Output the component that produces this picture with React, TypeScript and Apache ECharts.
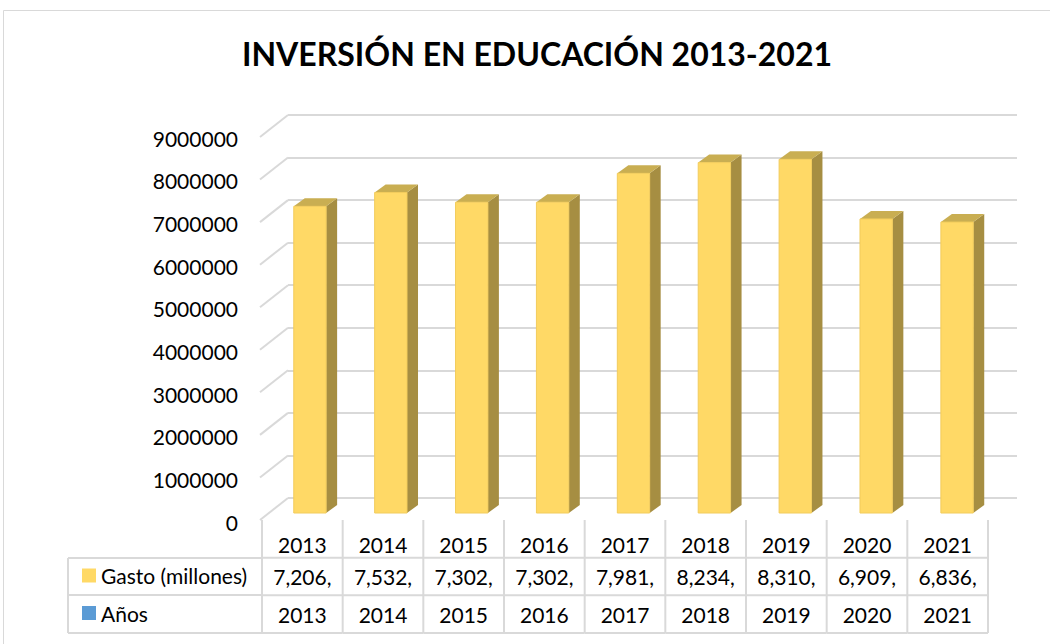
import React, { useEffect, useRef } from "react";
import * as echarts from "echarts";

const titleText = "INVERSIÓN EN EDUCACIÓN 2013-2021";
const years = ["2013", "2014", "2015", "2016", "2017", "2018", "2019", "2020", "2021"];
const gasto = [7206000, 7532000, 7302000, 7302000, 7981000, 8234000, 8310000, 6909000, 6836000];
const anos = [2013, 2014, 2015, 2016, 2017, 2018, 2019, 2020, 2021];
const seriesNames = ["Gasto (millones)", "Años"];
const yMin = 0;
const yMax = 9000000;
const yInterval = 1000000;

const FONT = "Lato, 'Open Sans', sans-serif";
const GRID_COLOR = "#d9d9d9";
const TXT = 21;

function fmtTable(v: number): string {
  return v.toLocaleString("en-US").slice(0, 6);
}

export default function App() {
  const ref = useRef<HTMLDivElement>(null);
  useEffect(() => {
    document.body.style.margin = "0";
    const chart = echarts.init(ref.current!, null, { renderer: "svg" });
    const ticks: number[] = [];
    for (let v = yMin; v <= yMax; v += yInterval) ticks.push(v);

    const legendBase = {
      left: 77,
      orient: "vertical",
      icon: "rect",
      itemWidth: 14,
      itemHeight: 14,
      itemGap: 6,
      selectedMode: false,
      textStyle: { fontFamily: FONT, fontSize: TXT, color: "#000", lineHeight: 20 },
    };

    const option: any = {
      animation: false,
      backgroundColor: "#ffffff",
      title: {
        text: titleText,
        left: 532,
        textAlign: "center",
        top: 32,
        textStyle: { fontFamily: FONT, fontSize: 32, fontWeight: "bold", color: "#000" },
      },
      legend: [
        { ...legendBase, data: [seriesNames[0]], top: 560 },
        { ...legendBase, data: [seriesNames[1]], top: 597.5 },
      ],
      grid: [
        { left: 288, top: 115, width: 729, height: 383 },
        { left: 269.5, top: 130, width: 728, height: 383 },
        { left: 246, top: 138, width: 10, height: 384 },
        { left: 262, top: 520, width: 726, height: 113 },
      ],
      xAxis: [
        { gridIndex: 0, type: "value", min: 0, max: 1, show: false },
        { gridIndex: 1, type: "category", data: years, show: false },
        { gridIndex: 2, type: "value", min: 0, max: 1, show: false },
        { gridIndex: 3, type: "category", data: years, show: false },
      ],
      yAxis: [
        {
          gridIndex: 0, type: "value", min: yMin, max: yMax, interval: yInterval,
          axisLine: { show: false }, axisTick: { show: false }, axisLabel: { show: false },
          splitLine: { show: true, lineStyle: { color: GRID_COLOR, width: 2 } },
        },
        { gridIndex: 1, type: "value", min: yMin, max: yMax, interval: yInterval, show: false },
        {
          gridIndex: 2, type: "value", min: yMin, max: yMax, interval: yInterval,
          axisLine: { show: false }, axisTick: { show: false }, splitLine: { show: false },
          axisLabel: {
            fontFamily: FONT, fontSize: TXT, color: "#000", margin: 8,
            formatter: (v: number) => String(v),
          },
        },
        { gridIndex: 3, type: "value", min: 0, max: 3, inverse: true, show: false },
      ],
      graphic: [
        {
          type: "rect",
          shape: { x: 3.5, y: 10.5, width: 1200, height: 800 },
          style: { fill: "none", stroke: GRID_COLOR, lineWidth: 1 },
          silent: true,
        },
        { type: "line", shape: { x1: 68, y1: 558, x2: 262, y2: 558 }, style: { stroke: GRID_COLOR, lineWidth: 2 } },
        { type: "line", shape: { x1: 68, y1: 595, x2: 262, y2: 595 }, style: { stroke: GRID_COLOR, lineWidth: 2 } },
        { type: "line", shape: { x1: 68, y1: 633, x2: 262, y2: 633 }, style: { stroke: GRID_COLOR, lineWidth: 2 } },
        { type: "line", shape: { x1: 68, y1: 558, x2: 68, y2: 633 }, style: { stroke: GRID_COLOR, lineWidth: 2 } },
      ],
      series: [
        {
          type: "custom",
          name: "wall",
          xAxisIndex: 0,
          yAxisIndex: 0,
          data: ticks.map((v) => [0, v]),
          encode: { x: 0, y: 1 },
          silent: true,
          renderItem: (params: any, api: any) => {
            const p = api.coord([0, api.value(1)]);
            return {
              type: "line",
              shape: { x1: p[0], y1: p[1], x2: p[0] - 28, y2: p[1] + 22 },
              style: { stroke: GRID_COLOR, lineWidth: 2 },
            };
          },
        },
        {
          type: "custom",
          name: seriesNames[0],
          xAxisIndex: 1,
          yAxisIndex: 1,
          itemStyle: { color: "#FFD966" },
          data: gasto.map((v, i) => [i, v]),
          encode: { x: 0, y: 1 },
          renderItem: (params: any, api: any) => {
            const i = api.value(0);
            const v = api.value(1);
            const top = api.coord([i, v]);
            const base = api.coord([i, 0]);
            const bw = api.size([1, 0])[0] * 0.4;
            const x0 = top[0] - bw / 2;
            const x1 = top[0] + bw / 2;
            const dx = 11;
            const dy = 8;
            return {
              type: "group",
              children: [
                {
                  type: "polygon",
                  shape: { points: [[x1, top[1]], [x1 + dx, top[1] - dy], [x1 + dx, base[1] - dy], [x1, base[1]]] },
                  style: { fill: "#A68E42" },
                },
                {
                  type: "polygon",
                  shape: { points: [[x0, top[1]], [x0 + dx, top[1] - dy], [x1 + dx, top[1] - dy], [x1, top[1]]] },
                  style: { fill: "#C9AE52" },
                },
                {
                  type: "rect",
                  shape: { x: x0, y: top[1], width: bw, height: base[1] - top[1] },
                  style: { fill: "#FFD966", stroke: "#F2CC5C", lineWidth: 1 },
                },
              ],
            };
          },
        },
        {
          type: "custom",
          name: seriesNames[1],
          xAxisIndex: 1,
          yAxisIndex: 1,
          itemStyle: { color: "#5B9BD5" },
          data: anos.map((v, i) => [i, v]),
          encode: { x: 0, y: 1 },
          renderItem: () => ({ type: "group", children: [] }),
        },
        {
          type: "custom",
          name: "table",
          xAxisIndex: 3,
          yAxisIndex: 3,
          silent: true,
          data: years.map((y, i) => [i, gasto[i], anos[i]]),
          encode: { x: 0 },
          renderItem: (params: any, api: any) => {
            const i = api.value(0);
            const c0 = api.coord([i, 0]);
            const w = api.size([1, 0])[0];
            const xl = c0[0] - w / 2;
            const xr = c0[0] + w / 2;
            const y0 = c0[1];
            const y1 = api.coord([i, 1])[1];
            const y2 = api.coord([i, 2])[1];
            const y3 = api.coord([i, 3])[1];
            const ls = { stroke: GRID_COLOR, lineWidth: 2 };
            const ts = { fontFamily: FONT, fontSize: TXT, fill: "#000", align: "center", verticalAlign: "middle" };
            const children: any[] = [
              { type: "line", shape: { x1: xl, y1: y0, x2: xl, y2: y3 }, style: ls },
              { type: "line", shape: { x1: xl, y1: y1, x2: xr, y2: y1 }, style: ls },
              { type: "line", shape: { x1: xl, y1: y2, x2: xr, y2: y2 }, style: ls },
              { type: "line", shape: { x1: xl, y1: y3, x2: xr, y2: y3 }, style: ls },
              { type: "text", x: c0[0], y: (y0 + y1) / 2 + 6, style: { ...ts, text: years[params.dataIndex] } },
              { type: "text", x: c0[0], y: (y1 + y2) / 2, style: { ...ts, text: fmtTable(api.value(1)) } },
              { type: "text", x: c0[0], y: (y2 + y3) / 2, style: { ...ts, text: String(api.value(2)) } },
            ];
            if (params.dataIndex === years.length - 1) {
              children.push({ type: "line", shape: { x1: xr, y1: y0, x2: xr, y2: y3 }, style: ls });
            }
            return { type: "group", children };
          },
        },
      ],
    };
    chart.setOption(option);
    return () => chart.dispose();
  }, []);
  return <div ref={ref} style={{ width: 1050, height: 644 }} />;
}
